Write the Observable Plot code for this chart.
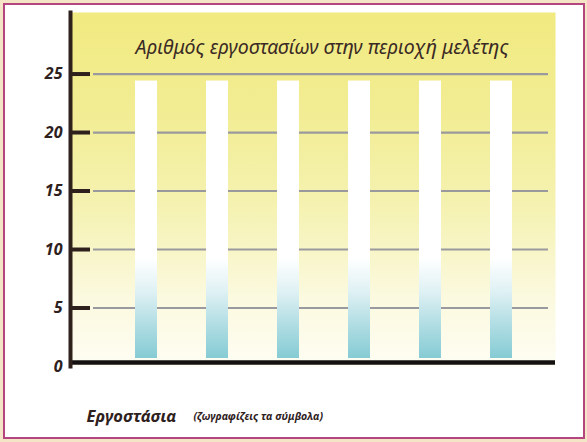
<!DOCTYPE html>
<html>
<head>
<meta charset="utf-8">
<script src="https://cdn.jsdelivr.net/npm/d3@7"></script>
<script src="https://cdn.jsdelivr.net/npm/@observablehq/plot@0.6"></script>
<style>
  html, body { margin: 0; padding: 0; background: #f4e5c6; width: 587px; height: 442px; overflow: hidden; }
  #frame { position: absolute; left: 3px; top: 3px; width: 578px; height: 432px; border: 2px solid #b4457f; background: #ffffff; }
  #chart { position: absolute; left: 0; top: 0; }
  #chart svg { background: transparent !important; }
</style>
</head>
<body>
<div id="frame"></div>
<div id="chart"></div>
<script>
// Template chart: six empty factory columns
const categories = ["1", "2", "3", "4", "5", "6"];
const values = [24.4, 24.4, 24.4, 24.4, 24.4, 24.4];
const yTicks = [0, 5, 10, 15, 20, 25];
const title = "Αριθμός εργοστασίων στην περιοχή μελέτης";
const xLabel = "Εργοστάσια";
const xNote = "(ζωγραφίζεις τα σύμβολα)";

const data = categories.map((c, i) => ({cat: c, value: values[i]}));
const ink = "#2e211d";
const font = "'Noto Sans', 'DejaVu Sans', sans-serif";

const chart = Plot.plot({
  width: 587,
  height: 442,
  marginLeft: 70,
  marginRight: 32,
  marginTop: 12,
  marginBottom: 76,
  style: {background: "transparent", fontFamily: font},
  x: {domain: categories, paddingInner: 0.69, paddingOuter: 0.74, align: 0.6, axis: null},
  y: {domain: [0, 30.26], axis: null},
  marks: [
    Plot.frame({fill: "url(#bgGrad)", stroke: "none"}),
    Plot.ruleY(yTicks.filter(d => d > 0), {y: d => d, stroke: "#9a9a9e", strokeWidth: 2.2, insetLeft: 23, insetRight: 7}),
    Plot.barY(data, {x: "cat", y1: 0, y2: "value", fill: "url(#barGrad)", insetBottom: 8}),
    Plot.ruleY(yTicks.filter(d => d > 0), {y: d => d, stroke: ink, strokeWidth: 4, insetRight: 465}),
    Plot.ruleY([0], {stroke: "#141010", strokeWidth: 4.5, dy: -4}),
    Plot.frame({anchor: "left", stroke: ink, strokeWidth: 4}),
    Plot.text(yTicks, {
      y: d => d, text: d => String(d), frameAnchor: "left", dx: -8, textAnchor: "end",
      fontSize: 16, fontStyle: "italic", fontWeight: "bold", fill: ink
    }),
    Plot.text([title], {
      frameAnchor: "top", dx: 9, dy: 28, text: d => d,
      fontSize: 19.5, fontStyle: "italic", fill: "#3a2a25"
    }),
    Plot.text([xLabel], {
      frameAnchor: "bottom-left", dx: 16, dy: 55, text: d => d, textAnchor: "start",
      fontSize: 16.5, fontStyle: "italic", fontWeight: "bold", fill: ink
    }),
    Plot.text([xNote], {
      frameAnchor: "bottom-left", dx: 123, dy: 53, text: d => d, textAnchor: "start",
      fontSize: 10.5, fontStyle: "italic", fontWeight: "bold", fill: ink
    })
  ]
});

const svg = d3.select(chart.tagName.toLowerCase() === "svg" ? chart : chart.querySelector("svg"));
const defs = svg.insert("defs", ":first-child");
const bg = defs.append("linearGradient").attr("id", "bgGrad").attr("x1", 0).attr("y1", 0).attr("x2", 0).attr("y2", 1);
[[0, "#f1ea80"], [0.3, "#f2ed95"], [0.55, "#f5f2b2"], [0.8, "#fbf9de"], [1, "#fefdf3"]]
  .forEach(([o, c]) => bg.append("stop").attr("offset", o).attr("stop-color", c));
const bar = defs.append("linearGradient").attr("id", "barGrad").attr("x1", 0).attr("y1", 0).attr("x2", 0).attr("y2", 1);
[[0, "#ffffff"], [0.64, "#ffffff"], [0.76, "#dff1f4"], [0.88, "#b0dde3"], [1, "#86cbd4"]]
  .forEach(([o, c]) => bar.append("stop").attr("offset", o).attr("stop-color", c));

document.getElementById("chart").appendChild(chart);
</script>
</body>
</html>
